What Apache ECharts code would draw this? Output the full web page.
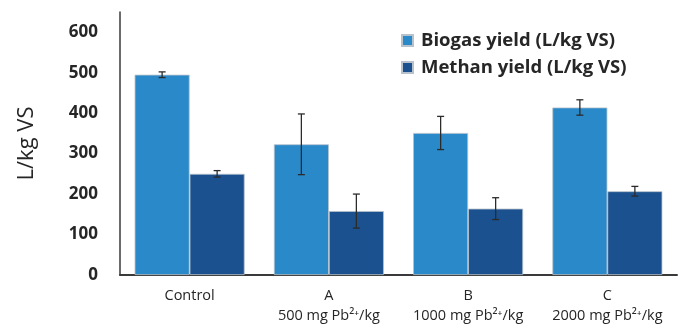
<!DOCTYPE html>
<html>
<head>
<meta charset="utf-8">
<script src="https://cdn.jsdelivr.net/npm/echarts@6/dist/echarts.min.js"></script>
<style>html,body{margin:0;padding:0;background:#fff;}#c{width:682px;height:327px;}</style>
</head>
<body>
<div id="c"></div>
<script>
const categories = ['Control', 'A\n500 mg Pb²⁺/kg', 'B\n1000 mg Pb²⁺/kg', 'C\n2000 mg Pb²⁺/kg'];
const biogas = [495, 323, 351, 414];
const biogasErr = [7, 75, 41, 19];
const methan = [250, 158, 164, 207];
const methanErr = [8, 42, 27, 12];
const yTicks = [0, 100, 200, 300, 400, 500, 600];

const catGap = 0.21;
const chart = echarts.init(document.getElementById('c'));

function errSeries(vals, errs, side) {
  return {
    type: 'custom',
    z: 10,
    silent: true,
    data: vals.map((v, i) => [i, v, errs[i]]),
    renderItem: function (params, api) {
      const i = api.value(0), v = api.value(1), e = api.value(2);
      const band = api.size([1, 0])[0];
      const bw = band * (1 - catGap) / 2;
      const c = api.coord([i, v]);
      const x = c[0] + side * bw / 2;
      const yt = api.coord([i, v + e])[1];
      const yb = api.coord([i, v - e])[1];
      const cap = 3.5;
      const st = { stroke: '#2b2b2b', lineWidth: 1.3 };
      return {
        type: 'group',
        children: [
          { type: 'line', shape: { x1: x, y1: yt, x2: x, y2: yb }, style: st },
          { type: 'line', shape: { x1: x - cap, y1: yt, x2: x + cap, y2: yt }, style: st },
          { type: 'line', shape: { x1: x - cap, y1: yb, x2: x + cap, y2: yb }, style: st }
        ]
      };
    }
  };
}

chart.setOption({
  animation: false,
  grid: { left: 120, right: 5, top: 12, bottom: 52, outerBoundsMode: 'none', containLabel: false },
  legend: {
    orient: 'vertical',
    left: 396,
    top: 26,
    itemWidth: 11,
    itemHeight: 11,
    itemGap: 8,
    icon: 'rect',
    data: ['Biogas yield (L/kg VS)', 'Methan yield (L/kg VS)'],
    textStyle: { fontFamily: 'Open Sans', fontWeight: 'bold', fontSize: 18.5, lineHeight: 18, color: '#262626', padding: [0, 0, 0, 3] }
  },
  xAxis: {
    type: 'category',
    data: categories,
    axisLine: { lineStyle: { color: '#3a3a3a', width: 2 } },
    axisTick: { show: false },
    axisLabel: {
      interval: 0,
      hideOverlap: false,
      margin: 11,
      fontFamily: 'Open Sans',
      fontSize: 14.5,
      color: '#262626',
      lineHeight: 20
    }
  },
  yAxis: {
    type: 'value',
    min: 0,
    max: 650,
    interval: 100,
    name: 'L/kg VS',
    nameLocation: 'middle',
    nameGap: 82,
    nameTextStyle: { fontFamily: 'Open Sans', fontSize: 22, color: '#262626' },
    splitLine: { show: false },
    axisTick: { show: false },
    axisLine: { show: true, lineStyle: { color: '#3a3a3a', width: 1.5 } },
    axisLabel: {
      showMaxLabel: false,
      margin: 22,
      fontFamily: 'Open Sans',
      fontWeight: 'bold',
      fontSize: 17,
      color: '#262626',
      formatter: function (v) { return yTicks.indexOf(v) >= 0 ? String(v) : ''; }
    }
  },
  series: [
    {
      name: 'Biogas yield (L/kg VS)',
      type: 'bar',
      data: biogas,
      barGap: '0%',
      barCategoryGap: (catGap * 100) + '%',
      itemStyle: { color: '#2989c9', borderColor: '#b8c2cc', borderWidth: 0.8 }
    },
    {
      name: 'Methan yield (L/kg VS)',
      type: 'bar',
      data: methan,
      itemStyle: { color: '#1a518e', borderColor: '#b8c2cc', borderWidth: 0.8 }
    },
    errSeries(biogas, biogasErr, -1),
    errSeries(methan, methanErr, 1)
  ]
});
</script>
</body>
</html>
